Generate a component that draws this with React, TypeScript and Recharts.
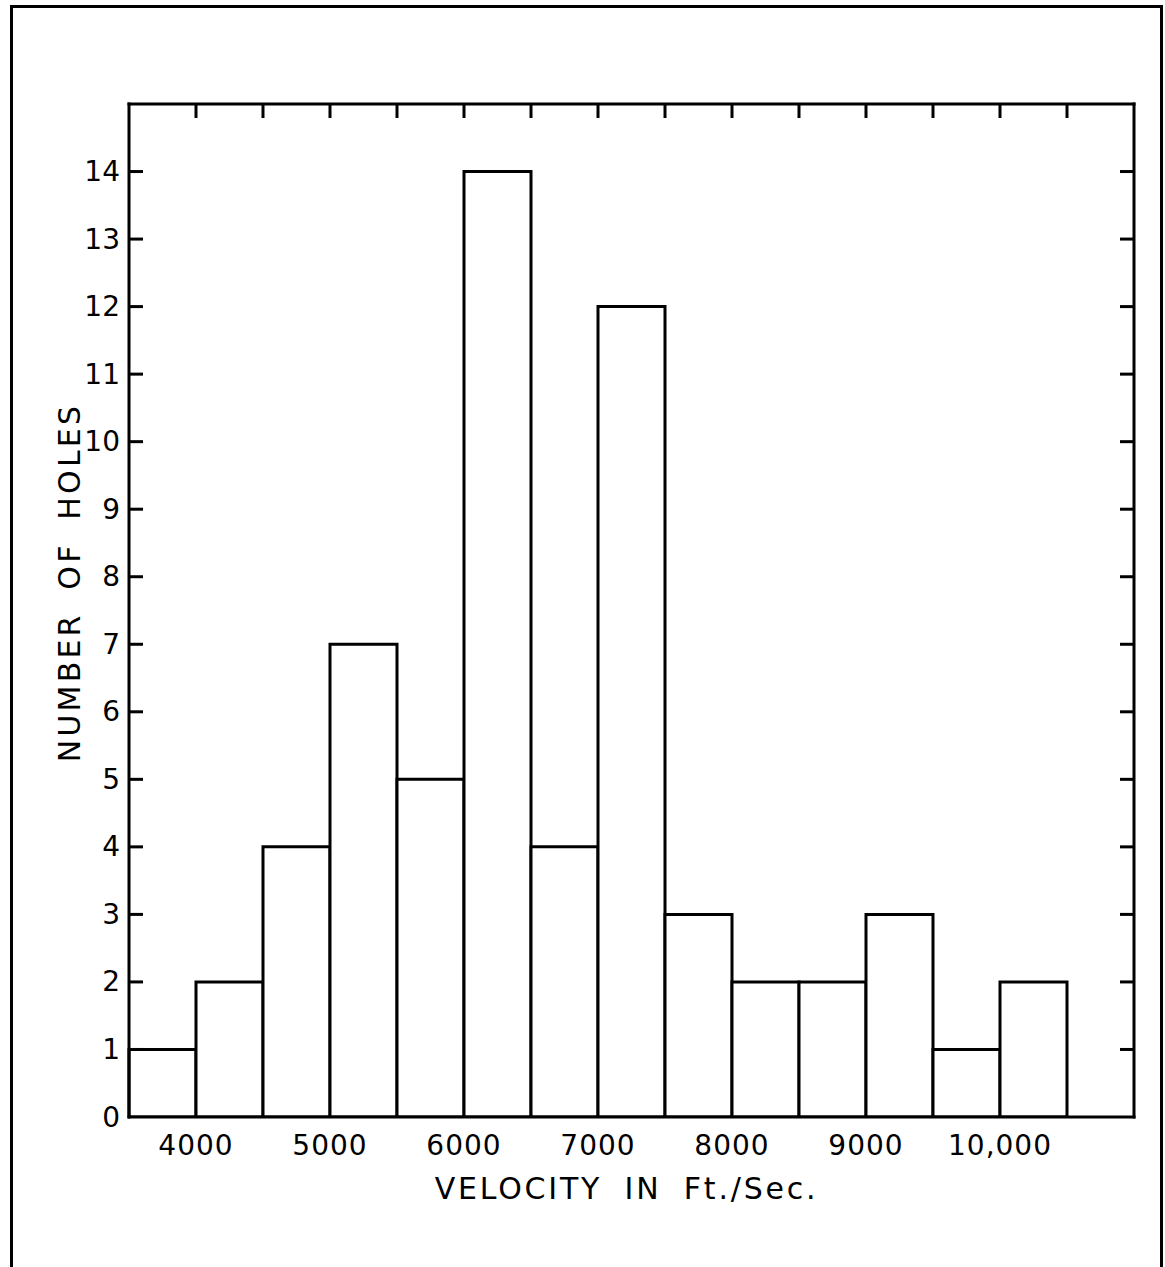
import React from "react";
import { ComposedChart, Bar, XAxis, YAxis, Label } from "recharts";

// histogram bins, 500 ft/sec wide (last one is empty, it only pads the axis to 11,000)
const binStarts = [3500, 4000, 4500, 5000, 5500, 6000, 6500, 7000, 7500, 8000, 8500, 9000, 9500, 10000, 10500];
const holeCounts = [1, 2, 4, 7, 5, 14, 4, 12, 3, 2, 2, 3, 1, 2, 0];

const countTicks = [0, 1, 2, 3, 4, 5, 6, 7, 8, 9, 10, 11, 12, 13, 14];
const velocityLabels = [4000, 5000, 6000, 7000, 8000, 9000, 10000];
const topTicks = [4000, 4500, 5000, 5500, 6000, 6500, 7000, 7500, 8000, 8500, 9000, 9500, 10000, 10500];

const data = binStarts.map((start, i) => ({ bin: start, holes: holeCounts[i] }));

const FONT = "'DejaVu Sans', sans-serif";
const INK = "#000";
const TICK_LEN = 14;
const LABEL_GAP = 9;
const axisLine = { stroke: INK, strokeWidth: 3, strokeLinecap: "square" as const };

function LeftTick({ x, y, payload }: any) {
  const edge = x + LABEL_GAP;
  return (
    <g>
      {payload.value > 0 && (
        <line x1={edge} x2={edge + TICK_LEN} y1={y} y2={y} stroke={INK} strokeWidth={3} />
      )}
      <text x={x} y={y} textAnchor="end" dominantBaseline="central" fontSize={28} fontFamily={FONT} fill={INK}>
        {payload.value}
      </text>
    </g>
  );
}

function RightTick({ x, y }: any) {
  return <line x1={x - TICK_LEN} x2={x} y1={y} y2={y} stroke={INK} strokeWidth={3} />;
}

function TopTick({ x, y }: any) {
  return <line x1={x} x2={x} y1={y} y2={y + TICK_LEN} stroke={INK} strokeWidth={3} />;
}

function BottomTick({ x, y, payload }: any) {
  const v = payload.value;
  const text = v >= 10000 ? v.toLocaleString("en-US") : String(v);
  return (
    <text x={x} y={y} textAnchor="middle" dominantBaseline="central" fontSize={28} letterSpacing={1} fontFamily={FONT} fill={INK}>
      {text}
    </text>
  );
}

function XTitle({ viewBox }: any) {
  if (!viewBox) return null;
  return (
    <text
      x={viewBox.x + viewBox.width / 2 - 5}
      y={viewBox.y + 71}
      textAnchor="middle"
      dominantBaseline="central"
      fontSize={30}
      letterSpacing={2.8}
      wordSpacing={10}
      fontFamily={FONT}
      fill={INK}
    >
      VELOCITY IN Ft./Sec.
    </text>
  );
}

function YTitle({ viewBox }: any) {
  if (!viewBox) return null;
  const cx = viewBox.x;
  const cy = viewBox.y + viewBox.height / 2 - 28;
  return (
    <text
      x={cx}
      y={cy}
      transform={`rotate(-90, ${cx}, ${cy})`}
      textAnchor="middle"
      dominantBaseline="central"
      fontSize={30}
      letterSpacing={3.2}
      wordSpacing={10}
      fontFamily={FONT}
      fill={INK}
    >
      NUMBER OF HOLES
    </text>
  );
}

export default function App() {
  return (
    <div style={{ position: "absolute", left: 0, top: 0, width: 1165, height: 1267, overflow: "hidden", background: "#fff" }}>
      <svg width={1165} height={1267} style={{ position: "absolute", left: 0, top: 0 }}>
        {/* outer page frame, its bottom edge runs off the picture */}
        <path d="M11.5 1300 L11.5 6.5 L1161.5 6.5 L1161.5 1300" fill="none" stroke={INK} strokeWidth={3} />
      </svg>
      <div style={{ position: "absolute", left: 0, top: 0 }}>
        <ComposedChart
          width={1165}
          height={1267}
          data={data}
          margin={{ top: 103, right: 30, bottom: 110, left: 69 }}
          barCategoryGap={0}
          barGap={0}
        >
          <XAxis xAxisId="bins" dataKey="bin" hide height={0} />
          <XAxis
            xAxisId="vel"
            dataKey="bin"
            type="number"
            domain={[3500, 11000]}
            allowDataOverflow
            ticks={velocityLabels}
            interval={0}
            height={40}
            tickSize={0}
            tickMargin={28}
            tickLine={false}
            axisLine={axisLine}
            tick={<BottomTick />}
          >
            <Label content={<XTitle />} />
          </XAxis>
          <XAxis
            xAxisId="top"
            dataKey="bin"
            orientation="top"
            type="number"
            domain={[3500, 11000]}
            allowDataOverflow
            ticks={topTicks}
            interval={0}
            height={1}
            tickSize={0}
            tickMargin={0}
            tickLine={false}
            axisLine={axisLine}
            tick={<TopTick />}
          />
          <YAxis
            yAxisId="left"
            type="number"
            domain={[0, 15]}
            allowDataOverflow
            ticks={countTicks}
            interval={0}
            width={60}
            tickSize={0}
            tickMargin={LABEL_GAP}
            tickLine={false}
            axisLine={axisLine}
            tick={<LeftTick />}
          >
            <Label content={<YTitle />} />
          </YAxis>
          <YAxis
            yAxisId="right"
            orientation="right"
            type="number"
            domain={[0, 15]}
            allowDataOverflow
            ticks={countTicks.slice(1)}
            interval={0}
            width={1}
            tickSize={0}
            tickMargin={0}
            tickLine={false}
            axisLine={axisLine}
            tick={<RightTick />}
          />
          <Bar
            xAxisId="bins"
            yAxisId="left"
            dataKey="holes"
            fill="#fff"
            stroke={INK}
            strokeWidth={3}
            isAnimationActive={false}
          />
        </ComposedChart>
      </div>
    </div>
  );
}
